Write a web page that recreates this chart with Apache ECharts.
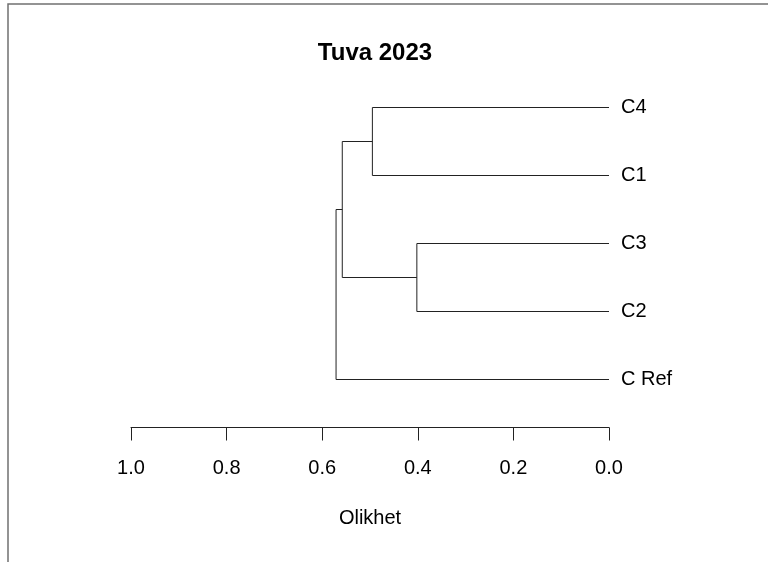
<!DOCTYPE html>
<html>
<head>
<meta charset="utf-8">
<title>Tuva 2023</title>
<script src="https://cdn.jsdelivr.net/npm/echarts@6/dist/echarts.min.js"></script>
<style>
  html, body { margin: 0; padding: 0; background: #ffffff; }
  #chart { width: 768px; height: 562px; }
</style>
</head>
<body>
<div id="chart"></div>
<script>
// Leaves, listed top to bottom
const leafNames = ['C4', 'C1', 'C3', 'C2', 'C Ref'];

// Agglomeration steps: node ids 0..4 are leaves, 5.. are merged clusters
const mergeLeft = [0, 2, 5, 7];
const mergeRight = [1, 3, 6, 4];
const mergeHeight = [0.495, 0.402, 0.558, 0.571];

// Dissimilarity axis
const axisTickValues = [0, 0.2, 0.4, 0.6, 0.8, 1.0];
const axisTitle = 'Olikhet';
const chartTitle = 'Tuva 2023';

// Height and vertical position of every node
const nodeHeight = leafNames.map(() => 0);
const nodePos = leafNames.map((_, i) => i + 1);
mergeHeight.forEach((h, k) => {
  nodeHeight.push(h);
  nodePos.push((nodePos[mergeLeft[k]] + nodePos[mergeRight[k]]) / 2);
});

// One bracket per merge: [leftHeight, leftPos, rightHeight, rightPos, mergeHeight]
const bracketData = mergeHeight.map((h, k) => [
  nodeHeight[mergeLeft[k]], nodePos[mergeLeft[k]],
  nodeHeight[mergeRight[k]], nodePos[mergeRight[k]],
  h
]);

const FONT = "'Liberation Sans', Arial, sans-serif";
const chart = echarts.init(document.getElementById('chart'), null, { renderer: 'canvas' });

chart.setOption({
  animation: false,
  backgroundColor: '#ffffff',
  title: {
    text: chartTitle,
    left: 370,
    textAlign: 'center',
    top: 36,
    textStyle: { fontFamily: FONT, fontSize: 24, fontWeight: 'bold', color: '#000' }
  },
  graphic: [{
    type: 'rect',
    shape: { x: 8, y: 4, width: 820, height: 620 },
    style: { fill: 'none', stroke: '#707070', lineWidth: 1.5 },
    silent: true
  }],
  grid: { left: 131, right: 159, top: 73.5, bottom: 148.5 },
  xAxis: {
    type: 'value',
    inverse: true,
    min: 0,
    max: 1,
    interval: 0.2,
    offset: 14,
    name: axisTitle,
    nameLocation: 'middle',
    nameGap: 81,
    nameTextStyle: { fontFamily: FONT, fontSize: 20, color: '#000' },
    axisLine: { show: true, lineStyle: { color: '#222', width: 1 } },
    axisTick: { show: true, length: 13, lineStyle: { color: '#222', width: 1 } },
    axisLabel: {
      fontFamily: FONT, fontSize: 20, color: '#000', margin: 31,
      formatter: v => axisTickValues.includes(Math.round(v * 10) / 10) ? v.toFixed(1) : ''
    },
    splitLine: { show: false }
  },
  yAxis: [{
    type: 'value',
    inverse: true,
    min: 0.5,
    max: leafNames.length + 0.5,
    show: false
  }, {
    type: 'category',
    data: leafNames,
    inverse: true,
    position: 'right',
    axisLine: { show: false },
    axisTick: { show: false },
    splitLine: { show: false },
    axisLabel: {
      fontFamily: FONT, fontSize: 20, color: '#000', margin: 12, align: 'left',
      padding: [4, 0, 0, 0]
    }
  }],
  series: [{
    type: 'custom',
    xAxisIndex: 0,
    yAxisIndex: 0,
    clip: false,
    encode: { x: [0, 2, 4], y: [1, 3] },
    data: bracketData,
    renderItem: (params, api) => {
      const lh = api.value(0), lp = api.value(1);
      const rh = api.value(2), rp = api.value(3);
      const h = api.value(4);
      const pts = [
        api.coord([lh, lp]),
        api.coord([h, lp]),
        api.coord([h, rp]),
        api.coord([rh, rp])
      ];
      return {
        type: 'polyline',
        shape: { points: pts },
        style: { fill: 'none', stroke: '#222', lineWidth: 1 }
      };
    }
  }]
});
</script>
</body>
</html>
